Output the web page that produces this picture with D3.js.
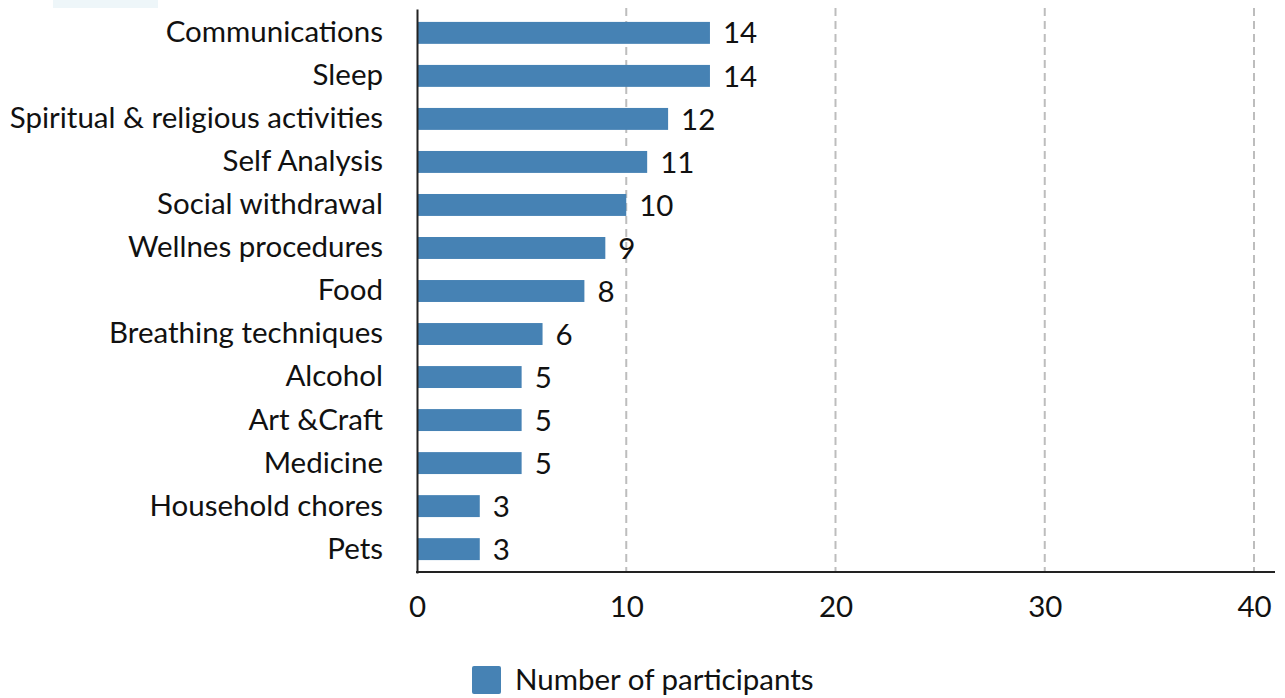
<!DOCTYPE html>
<html>
<head>
<meta charset="utf-8">
<script src="https://cdn.jsdelivr.net/npm/d3@7"></script>
<style>
  html, body { margin: 0; padding: 0; background: #fff; }
  svg { display: block; font-family: Lato, "Open Sans", sans-serif; }
</style>
</head>
<body>
<svg id="chart" width="1285" height="698"></svg>
<script>
const categories = [
  "Communications", "Sleep", "Spiritual & religious activities", "Self Analysis",
  "Social withdrawal", "Wellnes procedures", "Food", "Breathing techniques",
  "Alcohol", "Art &Craft", "Medicine", "Household chores", "Pets"
];
const participants = [14, 14, 12, 11, 10, 9, 8, 6, 5, 5, 5, 3, 3];
const xTicks = [0, 10, 20, 30, 40];
const seriesName = "Number of participants";

const svg = d3.select("#chart");
const barColor = "#4682b4";
const fontSize = 29.5;
const plotLeft = 417, plotRight = 1254, plotTop = 8, plotBottom = 572;

// faint header strip along the top edge
svg.append("rect").attr("x", 53).attr("y", 0).attr("width", 105).attr("height", 8).attr("fill", "#eef6f9");

const x = d3.scaleLinear().domain([0, 40]).range([plotLeft, plotRight]);
const y = d3.scaleBand().domain(categories).range([plotTop + 1, plotBottom + 1]).paddingInner(0.49).paddingOuter(0.3);

// dashed vertical gridlines
svg.append("g").selectAll("line").data(xTicks.filter(d => d > 0)).join("line")
  .attr("x1", d => x(d)).attr("x2", d => x(d))
  .attr("y1", plotTop).attr("y2", plotBottom)
  .attr("stroke", "#bdbdbd").attr("stroke-width", 2).attr("stroke-dasharray", "8,5");

// bars
svg.append("g").selectAll("rect").data(categories).join("rect")
  .attr("x", x(0))
  .attr("y", d => y(d))
  .attr("width", (d, i) => x(participants[i]) - x(0))
  .attr("height", y.bandwidth())
  .attr("fill", barColor);

// value labels
svg.append("g").selectAll("text").data(categories).join("text")
  .attr("x", (d, i) => x(participants[i]) + 13)
  .attr("y", d => y(d) + y.bandwidth() / 2)
  .attr("dy", "0.36em")
  .attr("font-size", fontSize)
  .attr("fill", "#111")
  .text((d, i) => participants[i]);

// y axis
const yAxis = svg.append("g").attr("transform", `translate(${plotLeft},0)`)
  .call(d3.axisLeft(y).tickSize(0).tickPadding(34));
yAxis.select(".domain").attr("stroke", "#222").attr("stroke-width", 2);
yAxis.selectAll("text").attr("font-size", fontSize).attr("fill", "#111").attr("font-family", "Lato, sans-serif");

// x axis
const xAxis = svg.append("g").attr("transform", `translate(0,${plotBottom})`)
  .call(d3.axisBottom(x).tickValues(xTicks).tickSize(0).tickPadding(24));
xAxis.select(".domain").remove();
xAxis.append("line").attr("x1", plotLeft - 1).attr("x2", 1275).attr("y1", 0).attr("y2", 0)
  .attr("stroke", "#222").attr("stroke-width", 2);
xAxis.selectAll("text").attr("font-size", fontSize).attr("fill", "#111").attr("font-family", "Lato, sans-serif");

// legend
const legend = svg.append("g").attr("transform", "translate(472,666)");
legend.append("rect").attr("width", 29).attr("height", 28).attr("rx", 2).attr("fill", barColor);
legend.append("text").attr("x", 43).attr("y", 13).attr("dy", "0.36em")
  .attr("font-size", fontSize).attr("fill", "#111").text(seriesName);
</script>
</body>
</html>
